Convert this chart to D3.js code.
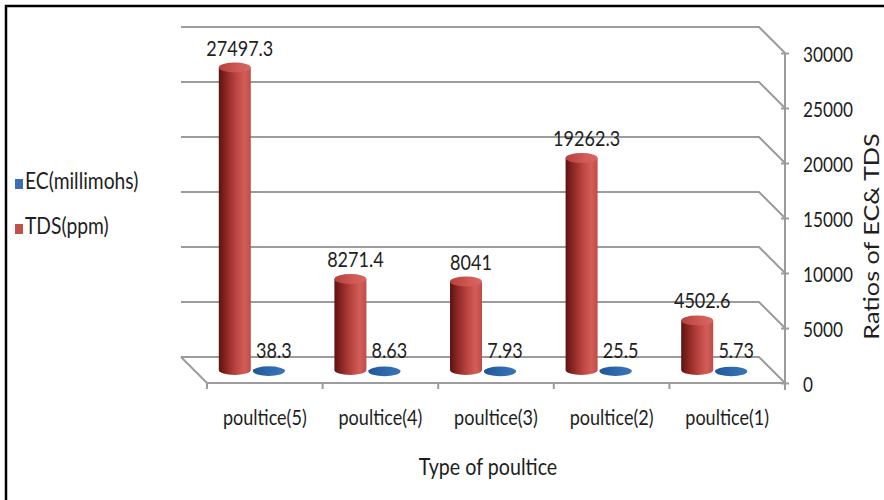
<!DOCTYPE html>
<html>
<head>
<meta charset="utf-8">
<script src="https://cdn.jsdelivr.net/npm/d3@7"></script>
<style>
  html, body { margin: 0; padding: 0; background: #fff; }
  svg { display: block; }
  text { font-family: "Lato", "Open Sans", sans-serif; fill: #1e1e1e; }
</style>
</head>
<body>
<svg id="chart" width="884" height="500"></svg>
<script>
// Poultice measurements: electrical conductivity and total dissolved solids
const categories = ["poultice(5)", "poultice(4)", "poultice(3)", "poultice(2)", "poultice(1)"];
const seriesNames = ["EC(millimohs)", "TDS(ppm)"];
const ecValues = [38.3, 8.63, 7.93, 25.5, 5.73];
const tdsValues = [27497.3, 8271.4, 8041, 19262.3, 4502.6];
const yTicks = [0, 5000, 10000, 15000, 20000, 25000, 30000];
const seriesColors = { "EC(millimohs)": "#3a6fb5", "TDS(ppm)": "#c0504d" };

const svg = d3.select("#chart");
const W = 884, H = 500;
const narrow = 0.82;   // condensed look for horizontal text

// move a text's x/y into a transform so it can be narrowed around its anchor
function squeeze(sel, sx) {
  sel.each(function () {
    const t = d3.select(this);
    const tx = +t.attr("x") || 0, ty = +t.attr("y") || 0;
    t.attr("x", 0).attr("y", 0).attr("transform", `translate(${tx},${ty}) scale(${sx},1)`);
  });
}

// 3D box geometry: front plane scales, back wall shifted up-left by `depth`
const depth = 26;
const x = d3.scaleBand().domain(categories).range([207, 785]).paddingInner(0).paddingOuter(0);
const y = d3.scaleLinear().domain([0, 30000]).range([383, 53]);
const sub = d3.scaleBand().domain(["TDS(ppm)", "EC(millimohs)"]).range([-34, 34]);
const mid = depth / 2;           // bars stand half-way into the floor
const rx = 16, ry = 5;

// gradients for the cylinders
const defs = svg.append("defs");
function hGrad(id, stops) {
  const g = defs.append("linearGradient").attr("id", id)
    .attr("x1", "0%").attr("x2", "100%").attr("y1", "0%").attr("y2", "0%");
  stops.forEach(([o, c]) => g.append("stop").attr("offset", o).attr("stop-color", c));
}
hGrad("redBody", [[0, "#5a1412"], [0.18, "#82221f"], [0.5, "#b6413d"], [0.8, "#d25d59"], [1, "#c24b47"]]);
hGrad("redTop", [[0, "#b6403c"], [0.6, "#cf5a56"], [1, "#d96763"]]);
hGrad("blueBody", [[0, "#163f73"], [0.5, "#2c63a6"], [1, "#3f7bc2"]]);
hGrad("blueTop", [[0, "#1f5597"], [0.55, "#2f69ae"], [1, "#3a74b8"]]);

// outer frame
svg.append("rect").attr("x", 6).attr("y", 6).attr("width", W + 20).attr("height", H + 20)
  .attr("fill", "none").attr("stroke", "#000").attr("stroke-width", 2.5);

const gridColor = "#9c9c9c";
const xLeft = x.range()[0], xRight = x.range()[1];

// back wall gridlines and their diagonals down to the value axis
const grid = svg.append("g").attr("stroke", gridColor).attr("stroke-width", 2).attr("fill", "none");
grid.selectAll("path.grid").data(yTicks).join("path").attr("class", "grid")
  .attr("d", d => `M${xLeft - depth},${y(d) - depth}H${xRight - depth}L${xRight},${y(d)}`);

// floor outline
grid.append("path")
  .attr("d", `M${xLeft - depth},${y(0) - depth}L${xLeft},${y(0)}H${xRight}`);

// category ticks along the front edge
grid.selectAll("line.xt").data(d3.range(categories.length + 1)).join("line").attr("class", "xt")
  .attr("x1", i => xLeft + i * x.step()).attr("x2", i => xLeft + i * x.step())
  .attr("y1", y(0)).attr("y2", y(0) + 6);

// value axis on the right
const axisG = svg.append("g").attr("transform", `translate(${xRight},0)`);
axisG.call(d3.axisRight(y).tickValues(yTicks).tickSize(4).tickPadding(14).tickFormat(d3.format("d")));
axisG.select(".domain").attr("stroke", gridColor).attr("stroke-width", 2)
  .attr("d", `M0,${y(30000)}V${y(0) + 7}`);
axisG.selectAll(".tick line").attr("stroke", gridColor).attr("stroke-width", 2).attr("x1", -4);
axisG.selectAll(".tick text").attr("font-size", 21).attr("fill", "#1e1e1e")
  .style("font-family", '"Lato", "Open Sans", sans-serif')
  .attr("dy", null).attr("dominant-baseline", "central");
squeeze(axisG.selectAll(".tick text"), narrow);

// cylinders
const rows = [];
categories.forEach((c, i) => {
  rows.push({ cat: c, series: "TDS(ppm)", value: tdsValues[i] });
  rows.push({ cat: c, series: "EC(millimohs)", value: ecValues[i] });
});
const mY = v => y(v) - mid;
const cx = d => x(d.cat) + x.bandwidth() / 2 - mid + sub(d.series) + sub.bandwidth() / 2;

const bars = svg.append("g").selectAll("g.bar").data(rows).join("g").attr("class", "bar");
bars.append("path")
  .attr("fill", d => d.series === "TDS(ppm)" ? "url(#redBody)" : "url(#blueBody)")
  .attr("d", d => {
    const c = cx(d), yb = mY(0), yt = mY(d.value);
    return `M${c - rx},${yt}V${yb}A${rx},${ry} 0 0 0 ${c + rx},${yb}V${yt}Z`;
  });
bars.append("ellipse")
  .attr("cx", cx).attr("cy", d => mY(d.value) + (d.series === "TDS(ppm)" ? 0 : 1.5))
  .attr("rx", rx).attr("ry", d => d.series === "TDS(ppm)" ? ry : 4.8)
  .attr("fill", d => d.series === "TDS(ppm)" ? "url(#redTop)" : "url(#blueTop)");

// value labels
const valueLabels = svg.append("g").selectAll("text").data(rows).join("text")
  .attr("x", d => cx(d) + 5).attr("y", d => mY(d.value) - 12)
  .attr("text-anchor", "middle").attr("font-size", 22)
  .text(d => String(d.value));
squeeze(valueLabels, narrow);

// category labels
const catLabels = svg.append("g").selectAll("text").data(categories).join("text")
  .attr("x", d => x(d) + x.bandwidth() / 2).attr("y", 425)
  .attr("text-anchor", "middle").attr("font-size", 22)
  .text(d => d);
squeeze(catLabels, narrow);

// axis titles
const xTitle = svg.append("text").attr("x", (xLeft + xRight) / 2 - 8).attr("y", 475)
  .attr("text-anchor", "middle").attr("font-size", 24).text("Type of poultice");
squeeze(xTitle, narrow);
svg.append("text")
  .attr("transform", `translate(879,${(133 + 340) / 2}) rotate(-90) scale(1.2,1)`)
  .attr("text-anchor", "middle").attr("font-size", 21)
  .text("Ratios of EC& TDS");

// legend
const legend = svg.append("g").selectAll("g").data(seriesNames).join("g")
  .attr("transform", (d, i) => `translate(15,${189 + i * 45})`);
legend.append("rect").attr("x", 0).attr("y", -10).attr("width", 8).attr("height", 10)
  .attr("fill", d => seriesColors[d]);
const legendText = legend.append("text").attr("x", 10).attr("y", 0).attr("font-size", 23.5).text(d => d);
squeeze(legendText, narrow);
</script>
</body>
</html>
